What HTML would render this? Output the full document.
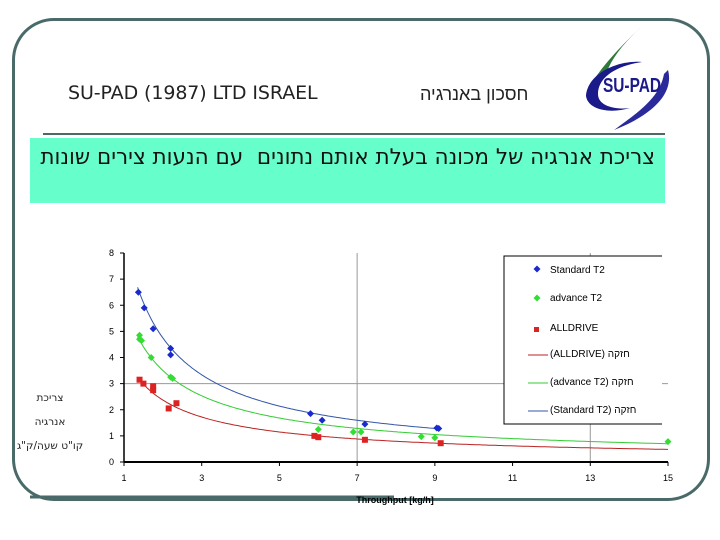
<!DOCTYPE html>
<html><head><meta charset="utf-8">
<style>
body{margin:0;width:720px;height:540px;background:#fff;overflow:hidden;position:relative;font-family:"Liberation Sans",sans-serif}
.abs{position:absolute}
</style></head><body>
<div class="abs" style="left:12px;top:18px;width:692px;height:477px;border:3px solid #4a6a6a;border-radius:42px;"></div>
<div class="abs" style="left:68px;top:82px;font-size:19px;color:#222;font-family:'DejaVu Sans',sans-serif;letter-spacing:-0.1px">SU-PAD (1987) LTD ISRAEL</div>
<div class="abs" dir="rtl" style="left:420px;top:84px;font-size:18px;color:#222;font-family:'Liberation Sans','DejaVu Sans',sans-serif">חסכון באנרגיה</div>
<svg class="abs" style="left:580px;top:22px" width="95" height="110" viewBox="0 0 95 110">
<path d="M62 4 C40 25 18 48 8 68 C14 60 20 56 26 52 C32 35 45 20 62 4Z" fill="#2f7a3a"/>
<path d="M6 74 C8 50 40 38 62 40 C35 44 18 56 18 72 C18 84 35 88 50 86 C30 92 8 88 6 74Z" fill="#1a1a8a"/>
<path d="M88 48 C94 70 75 92 34 108 C62 88 80 74 84 52Z" fill="#2a2a9a"/>
<text x="52" y="70" text-anchor="middle" font-family="Liberation Sans" font-weight="bold" font-size="20" fill="#1a1a8a" textLength="58" lengthAdjust="spacingAndGlyphs">SU-PAD</text>
</svg>
<div class="abs" style="left:43px;top:133px;width:622px;height:2px;background:#4a6a6a"></div>
<div class="abs" style="left:30px;top:138px;width:635px;height:65px;background:#66ffcc"></div>
<div class="abs" dir="rtl" style="left:30px;top:145px;width:625px;font-size:21.5px;color:#111;font-family:'DejaVu Sans',sans-serif;text-align:right;white-space:nowrap">צריכת אנרגיה של מכונה בעלת אותם נתונים&nbsp; עם הנעות צירים שונות</div>
<div class="abs" dir="rtl" style="left:0px;top:386px;width:100px;font-size:10.5px;color:#222;text-align:center;line-height:24px;font-family:'DejaVu Sans',sans-serif">צריכת<br>אנרגיה<br>קו"ט שעה/ק"ג</div>
<svg id="chart" class="abs" style="left:0;top:0" width="720" height="540"></svg>
<script>
const xTicks=[1,3,5,7,9,11,13,15];
const yTicks=[0,1,2,3,4,5,6,7,8];
const stdX=[1.37,1.52,1.75,2.2,2.2,5.8,6.1,7.2,9.05,9.1];
const stdY=[6.5,5.9,5.1,4.35,4.1,1.85,1.6,1.45,1.3,1.28];
const advX=[1.4,1.4,1.45,1.7,2.2,2.25,6.0,6.9,7.1,8.65,9.0,15];
const advY=[4.85,4.7,4.65,4.0,3.25,3.2,1.25,1.15,1.15,0.97,0.93,0.78];
const allX=[1.4,1.5,1.75,1.75,2.15,2.35,5.9,6.0,7.2,9.15];
const allY=[3.15,3.0,2.9,2.75,2.05,2.25,1.0,0.95,0.85,0.72];
const trendA=[8.68,6.1,4.1];
const trendB=[-0.87,-0.80,-0.79];
const trendEnd=[9.1,15,15];
const ns="http://www.w3.org/2000/svg";
const svg=document.getElementById('chart');
const X=v=>124+(v-1)*(544/14);
const Y=v=>462-v*(209/8);
function mk(t,a){const e=document.createElementNS(ns,t);for(const k in a)e.setAttribute(k,a[k]);svg.appendChild(e);return e;}
let g;
g=mk('line',{x1:X(7),x2:X(7),y1:Y(8),y2:Y(0),stroke:'#999','stroke-width':1});

g=mk('line',{x1:X(1),x2:668,y1:Y(3),y2:Y(3),stroke:'#999','stroke-width':1});

g=mk('line',{x1:X(13),x2:X(13),y1:Y(8),y2:Y(0),stroke:'#999','stroke-width':1});

g=mk('line',{x1:X(1),x2:X(1),y1:Y(8),y2:Y(0),stroke:'#000','stroke-width':1.5});

g=mk('line',{x1:X(1),x2:X(15),y1:Y(0),y2:Y(0),stroke:'#000','stroke-width':2});

yTicks.forEach(v=>{
 mk('line',{x1:X(1)-4,x2:X(1),y1:Y(v),y2:Y(v),stroke:'#000'});
 const t=mk('text',{x:X(1)-10,y:Y(v)+3,'text-anchor':'end','font-size':9,fill:'#000'});t.textContent=v;
 
});
xTicks.forEach(v=>{
 mk('line',{x1:X(v),x2:X(v),y1:Y(0),y2:Y(0)+4,stroke:'#000'});
 const t=mk('text',{x:X(v),y:Y(0)+19,'text-anchor':'middle','font-size':9,fill:'#000'});t.textContent=v;
 
});
g=mk('line',{x1:30,x2:394,y1:497,y2:497,stroke:'#4a6a6a','stroke-width':3});

g=mk('text',{x:395,y:503,'text-anchor':'middle','font-size':9,'font-weight':'bold',fill:'#000'});g.textContent='Throughput [kg/h]';

const cols=['#3355aa','#33cc33','#bb2222'];
const starts=[1.35,1.35,1.4];
for(let i=0;i<3;i++){
 let d='';
 for(let x=starts[i];x<=trendEnd[i]+1e-9;x+=0.05){d+=(d?'L':'M')+X(x).toFixed(1)+' '+Y(trendA[i]*Math.pow(x,trendB[i])).toFixed(1);}
 const p=mk('path',{d:d,fill:'none',stroke:cols[i],'stroke-width':1});
 
 
}
function diamond(x,y,c,n){const e=mk('path',{d:`M${x} ${y-3.5}L${x+3.5} ${y}L${x} ${y+3.5}L${x-3.5} ${y}Z`,fill:c});
 }
stdX.forEach((v,i)=>diamond(X(v),Y(stdY[i]),'#1a2acc','point-standard'));
advX.forEach((v,i)=>diamond(X(v),Y(advY[i]),'#33dd33','point-advance'));
allX.forEach((v,i)=>{const e=mk('rect',{x:X(v)-3,y:Y(allY[i])-3,width:6,height:6,fill:'#dd2222'});
 });
g=mk('path',{d:'M662 256 H504 V424 H662',fill:'#fff',stroke:'#000','stroke-width':1});

const legLabels=['Standard T2','advance T2','ALLDRIVE','(ALLDRIVE) חזקה','(advance T2) חזקה','(Standard T2) חזקה'];
const legLineCols=['#bb2222','#33cc33','#3355aa'];
legLabels.forEach((s,i)=>{
 const y=269+i*28;
 if(i==0)diamond(537,y,'#1a2acc','legend-marker-standard');
 if(i==1)diamond(537,y+1,'#33dd33','legend-marker-advance');
 if(i==2){const r=mk('rect',{x:534,y:y+2,width:5,height:5,fill:'#dd2222'});}
 if(i>=3){const l=mk('line',{x1:528,x2:548,y1:y+2,y2:y+2,stroke:legLineCols[i-3]});}
 const t=mk('text',{x:550,y:y+4+(i==2?2:0),'font-size':10,fill:'#000'});t.textContent=s;
 
});
</script>
</body></html>
